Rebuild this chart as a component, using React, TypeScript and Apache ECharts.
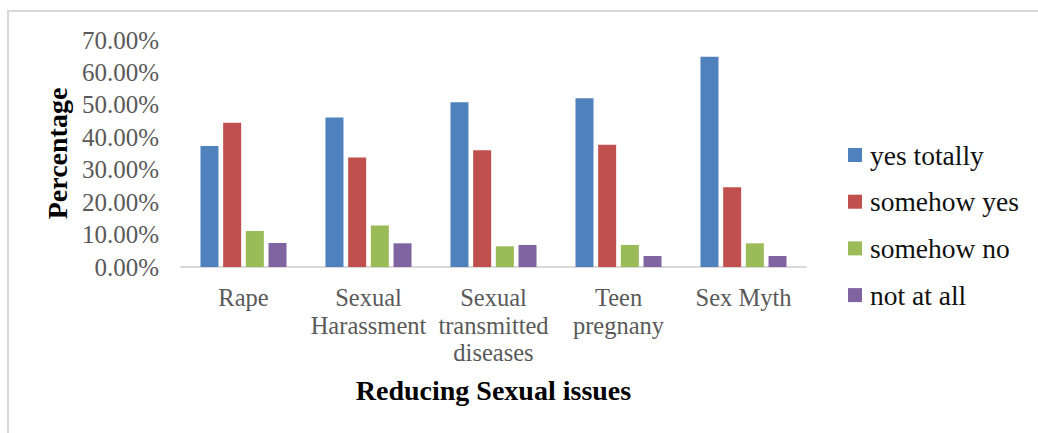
import React, { useEffect, useRef } from "react";
import * as echarts from "echarts";

const categories = [
  "Rape",
  "Sexual\nHarassment",
  "Sexual\ntransmitted\ndiseases",
  "Teen\npregnany",
  "Sex Myth",
];
const seriesNames = ["yes totally", "somehow yes", "somehow no", "not at all"];
const yesTotally = [37.3, 46.1, 50.8, 52.0, 64.8];
const somehowYes = [44.5, 33.8, 36.0, 37.7, 24.6];
const somehowNo = [11.1, 12.8, 6.4, 6.8, 7.3];
const notAtAll = [7.4, 7.3, 6.8, 3.4, 3.4];
const colors = ["#4F81BD", "#C0504D", "#9BBB59", "#8064A2"];

const FONT = "Liberation Serif";

export default function App() {
  const ref = useRef<HTMLDivElement>(null);
  useEffect(() => {
    if (!ref.current) return;
    const chart = echarts.init(ref.current, undefined, { renderer: "svg" });
    const values = [yesTotally, somehowYes, somehowNo, notAtAll];
    const legendItems: any[] = [];
    seriesNames.forEach((name, i) => {
      const cy = 155 + i * 46.7;
      legendItems.push({
        type: "rect",
        shape: { x: 848, y: cy - 7, width: 14, height: 14 },
        style: { fill: colors[i] },
        silent: true,
      });
      legendItems.push({
        type: "text",
        x: 870,
        y: cy,
        style: {
          text: name,
          font: "normal 27.5px 'Liberation Serif', serif",
          fill: "#111",
          verticalAlign: "middle",
          align: "left",
        },
        silent: true,
      });
    });
    chart.setOption({
      animation: false,
      textStyle: { fontFamily: FONT },
      graphic: [
        {
          type: "rect",
          shape: { x: 8, y: 11, width: 1100, height: 500 },
          style: { fill: "none", stroke: "#d9d9d9", lineWidth: 2 },
          silent: true,
        },
        ...legendItems,
      ],
      grid: { left: 181, right: 232, top: 40, bottom: 166 },
      xAxis: {
        type: "category",
        data: categories,
        axisLine: { lineStyle: { color: "#d9d9d9", width: 2 } },
        axisTick: { length: 6, lineStyle: { color: "#d9d9d9", width: 2 } },
        axisLabel: {
          interval: 0,
          hideOverlap: false,
          fontFamily: FONT,
          fontSize: 24.5,
          lineHeight: 27.5,
          color: "#595959",
          margin: 17,
        },
        name: "Reducing Sexual issues",
        nameLocation: "middle",
        nameGap: 109,
        nameTextStyle: {
          fontFamily: FONT,
          fontSize: 28,
          fontWeight: "bold",
          color: "#000",
        },
      },
      yAxis: {
        type: "value",
        min: 0,
        max: 70,
        interval: 10,
        splitLine: { show: false },
        axisLine: { show: false },
        axisTick: { show: false },
        axisLabel: {
          formatter: (v: number) => v.toFixed(2) + "%",
          fontFamily: FONT,
          fontSize: 25,
          color: "#595959",
          margin: 22,
        },
        name: "Percentage",
        nameLocation: "middle",
        nameGap: 107,
        nameTextStyle: {
          fontFamily: FONT,
          fontSize: 28,
          fontWeight: "bold",
          color: "#000",
        },
      },
      series: seriesNames.map((name, i) => ({
        name,
        type: "bar",
        data: values[i],
        barWidth: 18,
        barGap: "26%",
        itemStyle: { color: colors[i] },
      })),
    });
    return () => chart.dispose();
  }, []);
  return (
    <div
      ref={ref}
      style={{
        position: "fixed",
        left: 0,
        top: 0,
        width: 1038,
        height: 433,
        background: "#fff",
      }}
    />
  );
}
